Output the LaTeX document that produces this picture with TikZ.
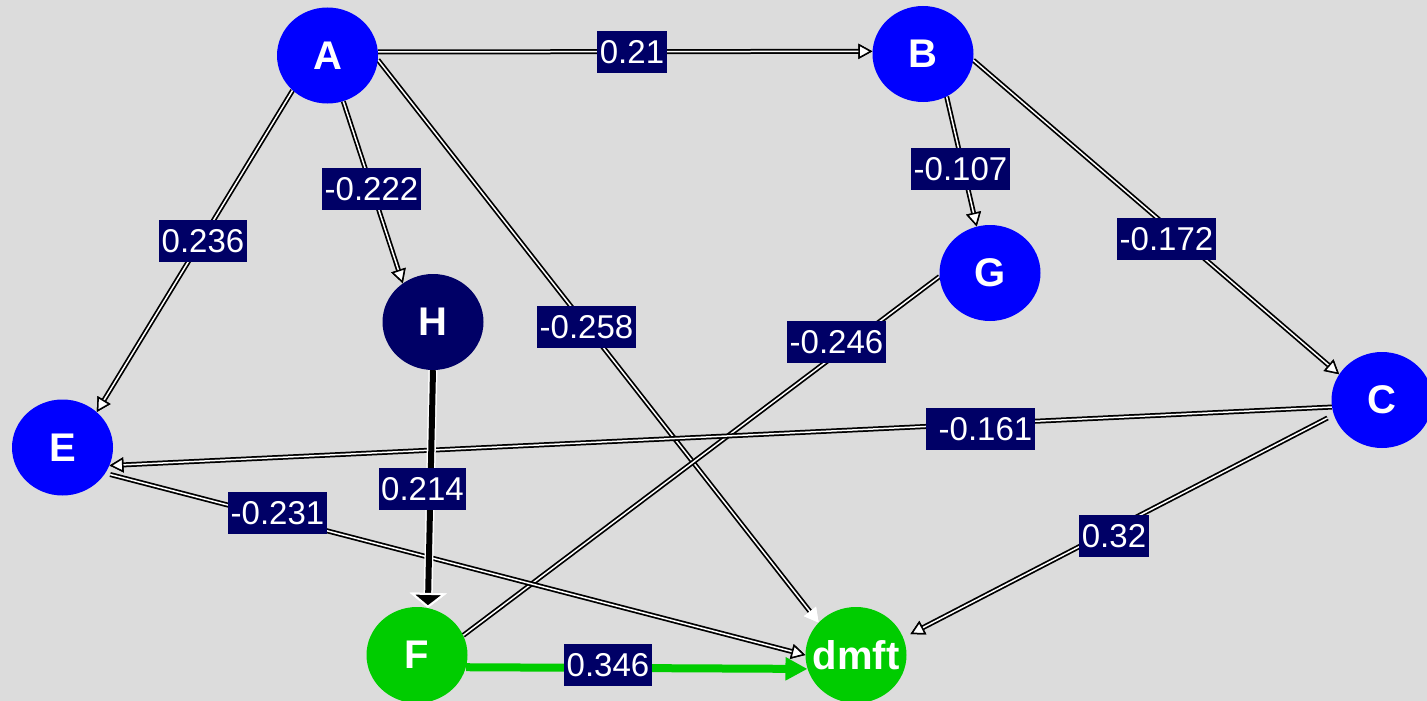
\documentclass[tikz,border=0pt]{standalone}
\usepackage{fontspec}
\setmainfont{Liberation Sans}
\usetikzlibrary{arrows.meta,shapes.geometric}

\definecolor{bgcol}{RGB}{220,220,220}
\definecolor{nodeblue}{RGB}{0,0,255}
\definecolor{navy}{RGB}{0,0,102}
\definecolor{nodegreen}{RGB}{0,204,0}

\pgfdeclarelayer{canvas}
\pgfdeclarelayer{edges}
\pgfsetlayers{canvas,edges,main}

\newcommand{\vtext}[1]{\makebox[0pt]{#1}}

\tikzset{
  vert/.style={ellipse, minimum width=101pt, minimum height=96pt, inner sep=0pt,
    text=white, font=\fontsize{40}{44}\selectfont\bfseries},
  bluev/.style={vert, fill=nodeblue},
  navyv/.style={vert, fill=navy},
  greenv/.style={vert, fill=nodegreen},
  lbl/.style={fill=navy, text=white, inner xsep=2.5pt, inner ysep=2.5pt,
    text height=29.9pt, text depth=7pt, font=\fontsize{33}{36}\selectfont},
  tipopen/.tip={Triangle[length=14pt, width=15pt, line width=1.5pt, color=black, fill=white]},
  tipwhite/.tip={Triangle[length=14pt, width=15pt, line width=1.5pt, color=white, fill=white]},
  tipbold/.tip={Triangle[length=15pt, width=37pt, line width=2pt, color=white, fill=black]},
  tipgreen/.tip={Triangle[length=22pt, width=22pt, color=nodegreen, fill=nodegreen]},
  wire/.style={draw=black, line width=5pt, postaction={draw=white, line width=1.5pt}},
  edge/.style={wire, -tipopen},
  edgew/.style={wire, -tipwhite},
  edgeb/.style={draw=white, line width=9pt, -tipbold,
    postaction={draw=black, line width=6pt}},
  edgeg/.style={draw=nodegreen, line width=8pt, -tipgreen},
}

\begin{document}
\begin{tikzpicture}[x=1pt, y=-1pt]
  \useasboundingbox (0,0) rectangle (1427,701);
  \begin{pgfonlayer}{canvas}
    \fill[bgcol] (0,0) rectangle (1427,701);
  \end{pgfonlayer}

  % vertices
  \path
    (327.5,55.5) node[bluev]  (A)    {\vtext{A}}
    (923,54)     node[bluev]  (B)    {\vtext{B}}
    (990,273)    node[bluev]  (G)    {\vtext{G}}
    (433,322)    node[navyv]  (H)    {\vtext{H}}
    (1382,400)   node[bluev]  (C)    {\vtext{C}}
    (62.5,447.5) node[bluev]  (E)    {\vtext{E}}
    (417,655)    node[greenv] (F)    {\vtext{F}}
    (856,655)    node[greenv] (dmft) {\vtext{dmft}};

  % weighted edges, kept beneath the vertices
  \begin{pgfonlayer}{edges}
    \draw[edge] (A.4) -- (B.177);
    \draw[edge] (A.-71) -- (H.128);
    \draw[edge] (A.225) -- (E.46);
    \draw[edgew] (A.-5) -- (dmft.139);
    \draw[edge] (B.-61) -- (G.106);
    \draw[edge] (B.-7) -- (C.149);
    \draw[wire] (G.184) -- (F.23);
    \draw[edge] (C.188) -- (E.-21);
    \draw[edge, shorten <=7pt, shorten >=8pt] (C.197) -- (dmft.20);
    \draw[edge, shorten <=5pt] (E.-31) -- (dmft.180);
    \draw[edgeb] (H.-90) -- (F.77);
    \draw[edgeg] (F.-14) -- (dmft.196);
  \end{pgfonlayer}

  % edge weights
  \node[lbl] (wAB)  at (632,52)    {0.21};
  \node[lbl] (wAH)  at (371.5,189) {-0.222};
  \node[lbl] (wAE)  at (203,241)   {0.236};
  \node[lbl] (wAD)  at (586.5,327) {-0.258};
  \node[lbl] (wBG)  at (960.5,169) {-0.107};
  \node[lbl] (wBC)  at (1166.5,239) {-0.172};
  \node[lbl] (wGF)  at (836.5,342) {-0.246};
  \node[lbl] (wCE)  at (980.5,429) {\hspace*{10pt}-0.161};
  \node[lbl] (wHF)  at (422.5,489) {0.214};
  \node[lbl] (wED)  at (277.5,513) {-0.231};
  \node[lbl] (wCD)  at (1114,536)  {0.32};
  \node[lbl] (wFD)  at (608,665)   {0.346};
\end{tikzpicture}
\end{document}
